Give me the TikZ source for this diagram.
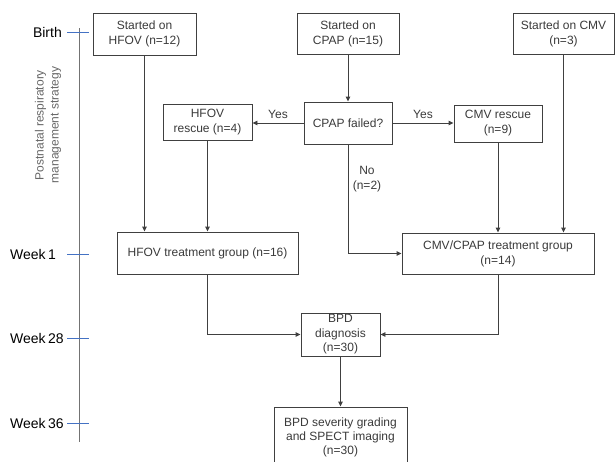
\documentclass[tikz,border=0pt]{standalone}
\usepackage{fontspec}
\setmainfont{Liberation Sans}
\usetikzlibrary{arrows.meta}
\definecolor{txt}{HTML}{3A3A3A}
\definecolor{ln}{HTML}{404040}
\definecolor{tick}{HTML}{4472C4}
\begin{document}
\begin{tikzpicture}[x=1pt,y=-1pt,
  box/.style={draw=ln,line width=0.9pt,text=txt,align=center,inner sep=0pt,
    font=\fontsize{12}{15}\selectfont},
  arr/.style={draw=ln,line width=0.9pt,-{Triangle[length=5pt,width=4.5pt]}},
  lbl/.style={text=txt,align=center,font=\fontsize{12}{15}\selectfont,inner sep=0pt},
  wk/.style={text=black,font=\fontsize{14}{16}\selectfont,inner sep=0pt},
  tk/.style={draw=tick,line width=0.8pt}]
\useasboundingbox (0,0) rectangle (616,461);
% timeline
\coordinate (ttop) at (79,28);
\coordinate (tbot) at (79,442);
\draw[draw=gray!90!black,line width=0.9pt] (ttop) -- (tbot);
\coordinate (t0a) at (67,32); \coordinate (t0b) at (89,32);
\coordinate (t1a) at (67,254); \coordinate (t1b) at (89,254);
\coordinate (t2a) at (67,338); \coordinate (t2b) at (89,338);
\coordinate (t3a) at (67,423); \coordinate (t3b) at (89,423);
\draw[tk] (t0a) -- (t0b);
\draw[tk] (t1a) -- (t1b);
\draw[tk] (t2a) -- (t2b);
\draw[tk] (t3a) -- (t3b);
\node[wk,anchor=east] (lb0) at (62,32) {Birth};
\node[wk,anchor=west] (lb1) at (10,254) {Week\,1};
\node[wk,anchor=west] (lb2) at (10,338) {Week\,28};
\node[wk,anchor=west] (lb3) at (10,423) {Week\,36};
\node[lbl,rotate=90,text=gray!80!black] (pn) at (48,125) {Postnatal respiratory\\management strategy};
% boxes
\node[box,minimum width=103pt,minimum height=42pt] (hfov) at (144.5,34) {Started on\\HFOV (n=12)};
\node[box,minimum width=102pt,minimum height=41pt] (cpap) at (348,33.5) {Started on\\CPAP (n=15)};
\node[box,minimum width=101pt,minimum height=41pt] (cmv) at (563.5,33.5) {Started on CMV\\(n=3)};
\node[box,minimum width=89pt,minimum height=36pt] (hfovr) at (207.5,122) {HFOV\\rescue (n=4)};
\node[box,minimum width=88pt,minimum height=42pt] (fail) at (348,123) {CPAP failed?};
\node[box,minimum width=88pt,minimum height=37pt] (cmvr) at (498,123.5) {CMV rescue\\(n=9)};
\node[box,minimum width=181pt,minimum height=42pt] (hfovt) at (207.5,253) {HFOV treatment group (n=16)};
\node[box,minimum width=192pt,minimum height=41pt] (cmvt) at (498,253.5) {CMV/CPAP treatment group\\(n=14)};
\node[box,minimum width=79pt,minimum height=43pt,font=\fontsize{12}{14.5}\selectfont] (bpd) at (340.5,334.5) {BPD\\diagnosis\\(n=30)};
\node[box,minimum width=133pt,minimum height=60pt,font=\fontsize{12}{14}\selectfont] (sev) at (340.5,437) {BPD severity grading\\and SPECT imaging\\(n=30)};
% connectors
\draw[arr] (hfov.south) -- (hfov.south |- hfovt.north);
\draw[arr] (hfovr.south) -- (hfovr.south |- hfovt.north);
\draw[arr] (cpap.south) -- (fail.north);
\draw[arr] (fail.west) -- (fail.west -| hfovr.east) node[lbl,midway,above=4pt] (y1) {Yes};
\draw[arr] (fail.east) -- (fail.east -| cmvr.west) node[lbl,midway,above=4pt] (y2) {Yes};
\draw[arr] (fail.south) |- (cmvt.west);
\node[lbl] (no) at (367,179) {No\\(n=2)};
\draw[arr] (cmvr.south) -- (cmvr.south |- cmvt.north);
\draw[arr] (cmv.south) -- (cmv.south |- cmvt.north);
\draw[arr] (hfovt.south) |- (bpd.west);
\draw[arr] (cmvt.south) |- (bpd.east);
\draw[arr] (bpd.south) -- (sev.north);
\end{tikzpicture}
\end{document}
